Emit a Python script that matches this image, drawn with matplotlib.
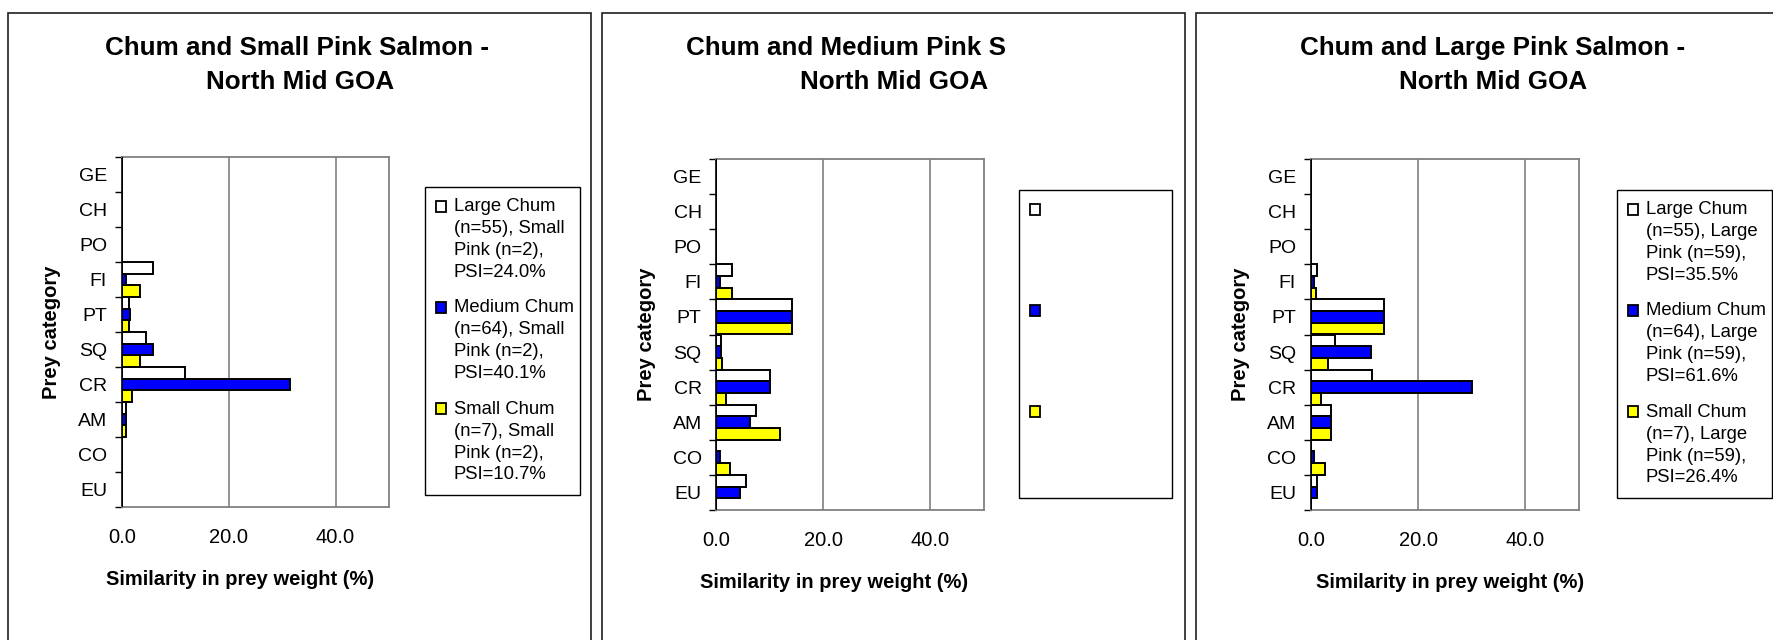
import numpy as np
import matplotlib
matplotlib.use("Agg")
import matplotlib.pyplot as plt
from matplotlib.patches import Rectangle

plt.rcParams['font.family'] = ['Liberation Sans', 'DejaVu Sans']

W, H = 1773, 640

categories = ['GE', 'CH', 'PO', 'FI', 'PT', 'SQ', 'CR', 'AM', 'CO', 'EU']

# Chum vs small pink
sp_large_chum = [0, 0, 0, 5.8, 1.45, 4.6, 11.8, 0.75, 0, 0]
sp_medium_chum = [0, 0, 0, 0.75, 1.6, 5.8, 31.4, 0.75, 0, 0]
sp_small_chum = [0, 0, 0, 3.5, 1.45, 3.5, 1.9, 0.75, 0, 0]

# Chum vs medium pink
mp_large_chum = [0, 0, 0, 3.0, 14.1, 0.9, 10.0, 7.4, 0, 5.5]
mp_medium_chum = [0, 0, 0, 0.7, 14.1, 0.9, 10.0, 6.3, 0.7, 4.4]
mp_small_chum = [0, 0, 0, 3.0, 14.1, 1.05, 1.8, 11.9, 2.5, 0]

# Chum vs large pink
lp_large_chum = [0, 0, 0, 1.1, 13.6, 4.5, 11.5, 3.7, 0, 1.1]
lp_medium_chum = [0, 0, 0, 0.7, 13.6, 11.2, 30.1, 3.7, 0.7, 1.1]
lp_small_chum = [0, 0, 0, 1.0, 13.6, 3.3, 1.85, 3.7, 2.6, 0]

sp_labels = ['Large Chum\n(n=55), Small\nPink (n=2),\nPSI=24.0%',
             'Medium Chum\n(n=64), Small\nPink (n=2),\nPSI=40.1%',
             'Small Chum\n(n=7), Small\nPink (n=2),\nPSI=10.7%']
mp_labels = [' \n \n \n ', ' \n \n \n ', ' \n \n \n ']
lp_labels = ['Large Chum\n(n=55), Large\nPink (n=59),\nPSI=35.5%',
             'Medium Chum\n(n=64), Large\nPink (n=59),\nPSI=61.6%',
             'Small Chum\n(n=7), Large\nPink (n=59),\nPSI=26.4%']

xticks = [0, 20, 40]
xtick_labels = ['0.0', '20.0', '40.0']
bar_colors = ['white', '#0000ff', '#ffff00']

fig = plt.figure(figsize=(W / 100, H / 100), dpi=100)

# panel frames (pixels: left, top, right)
for l, t, r in [(8, 13, 591), (602, 13, 1185), (1196, 13, 1790)]:
    fig.add_artist(Rectangle((l / W, -0.05), (r - l) / W, 1 - t / H + 0.05,
                             transform=fig.transFigure, fill=False,
                             ec='#202020', lw=1.2))


def draw_panel(axbox, series, labels, legbox, xlab_x):
    l, t, r, b = axbox
    ax = fig.add_axes([l / W, 1 - b / H, (r - l) / W, (b - t) / H])
    y = np.arange(len(categories))
    bh = 1 / 3
    bars = []
    for k, (vals, c) in enumerate(zip(series, bar_colors)):
        bars.append(ax.barh(y + (k - 1) * bh, vals, height=bh, color=c,
                            edgecolor='black', linewidth=1.4, zorder=3))
    ax.set_xlim(0, 50)
    ax.set_ylim(len(categories) - 0.5, -0.5)
    ax.set_xticks(xticks)
    ax.set_xticklabels(xtick_labels, fontsize=14.5)
    ax.tick_params(axis='x', length=0, pad=15)
    ax.set_yticks(np.arange(len(categories) + 1) - 0.5)
    ax.set_yticklabels([])
    ax.set_yticks(y, minor=True)
    ax.set_yticklabels(categories, minor=True, fontsize=14)
    ax.tick_params(axis='y', which='major', length=5, width=1, color='black', direction='out')
    ax.tick_params(axis='y', which='minor', length=0, pad=10.5)
    for xv in [20, 40]:
        ax.axvline(xv, color='#808080', lw=1.2, zorder=1)
    for s in ['top', 'right', 'bottom']:
        ax.spines[s].set_color('#808080')
        ax.spines[s].set_linewidth(1.3)
    ax.spines['left'].set_color('black')
    ax.spines['left'].set_linewidth(1.2)
    ax.set_xlabel('Similarity in prey weight (%)', fontsize=14.5, fontweight='bold')
    ax.xaxis.set_label_coords(xlab_x, -0.18)
    ax.set_ylabel('Prey category', fontsize=14.5, fontweight='bold')
    ax.yaxis.set_label_coords(-0.226, 0.5)

    x0, t0, x1, b0 = legbox
    leg = ax.legend(bars, labels, loc='upper left',
                    bbox_to_anchor=(x0 / W, 1 - b0 / H, (x1 - x0) / W, (b0 - t0) / H),
                    bbox_transform=fig.transFigure, mode='expand', borderaxespad=0,
                    fontsize=13.3, fancybox=False, framealpha=1, edgecolor='black',
                    handlelength=0.55, handleheight=0.55, handletextpad=0.4,
                    labelspacing=1.0, borderpad=0.6)
    leg.get_frame().set_linewidth(1.0)
    for txt in leg.get_texts():
        txt.set_linespacing(1.38)
    for hnd in leg.legend_handles:
        hnd.set_y(hnd.get_y() + 24)
        hnd.set_linewidth(1.3)
    return ax


draw_panel((121.7, 157, 389, 507), [sp_large_chum, sp_medium_chum, sp_small_chum],
           sp_labels, (425, 187, 580, 497), 0.443)
draw_panel((716.3, 159, 984, 510), [mp_large_chum, mp_medium_chum, mp_small_chum],
           mp_labels, (1019, 190, 1172, 500), 0.44)
draw_panel((1310.7, 159, 1579, 510), [lp_large_chum, lp_medium_chum, lp_small_chum],
           lp_labels, (1617, 190, 1772, 500), 0.52)

title_kw = dict(fontsize=18.7, fontweight='bold', ha='center', va='center')
fig.text(297 / W, 1 - 48 / H, 'Chum and Small Pink Salmon -', **title_kw)
fig.text(300 / W, 1 - 82 / H, 'North Mid GOA', **title_kw)
fig.text(846 / W, 1 - 48 / H, 'Chum and Medium Pink S', **title_kw)
fig.text(894 / W, 1 - 82 / H, 'North Mid GOA', **title_kw)
fig.text(1493 / W, 1 - 48 / H, 'Chum and Large Pink Salmon -', **title_kw)
fig.text(1493 / W, 1 - 82 / H, 'North Mid GOA', **title_kw)

fig.savefig('out.png', dpi=100)
